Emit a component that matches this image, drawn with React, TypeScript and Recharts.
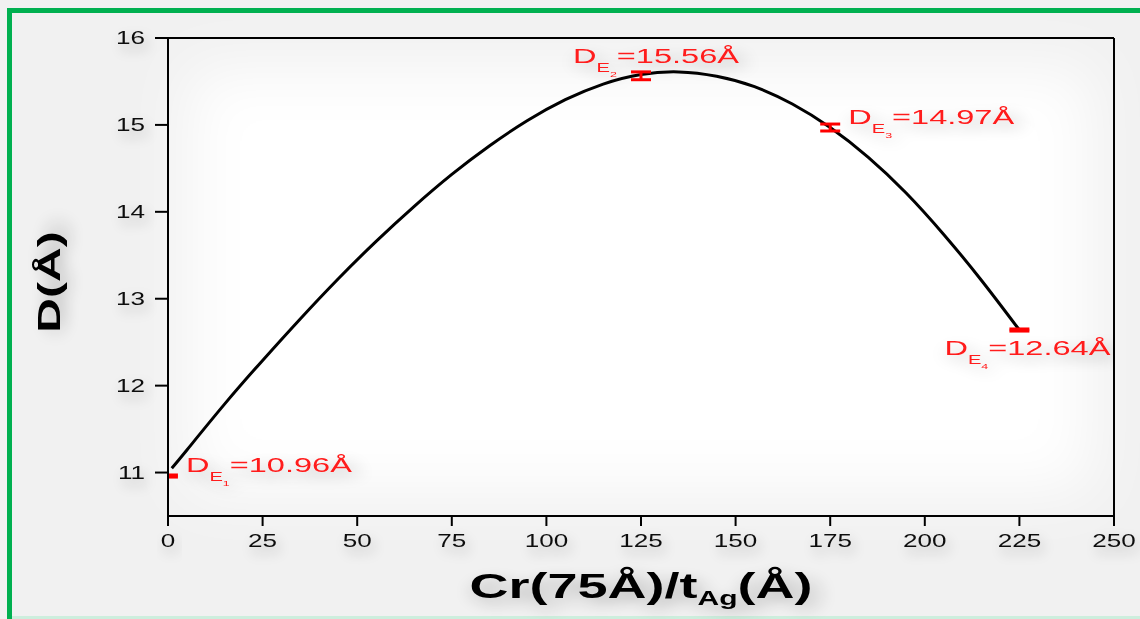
import { ComposedChart, Line, Scatter, ErrorBar, XAxis, YAxis, ReferenceLine } from 'recharts'

const curveX = [1, 5, 15, 25, 35, 45, 55, 65, 75, 85, 95, 105, 115, 125, 135, 145, 155, 165, 175, 185, 195, 205, 215, 225]
const curveY = [11.05, 11.26, 11.79, 12.29, 12.77, 13.23, 13.66, 14.06, 14.43, 14.76, 15.05, 15.29, 15.47, 15.58, 15.61, 15.56, 15.44, 15.24, 14.97, 14.63, 14.22, 13.74, 13.21, 12.64]

const pointNames = ['1', '2', '3', '4']
const pointX = [1.3, 125, 175, 225]
const pointY = [10.96, 15.565, 14.97, 12.64]
const pointErr = [0.012, 0.045, 0.04, 0.012]
const pointText = ['10.96', '15.56', '14.97', '12.64']

const xTicks = [0, 25, 50, 75, 100, 125, 150, 175, 200, 225, 250]
const yTicks = [11, 12, 13, 14, 15, 16]

const curve = curveX.map((x, i) => ({ x, y: curveY[i] }))
const points = pointX.map((x, i) => ({ x, y: pointY[i], err: pointErr[i], name: pointNames[i], text: pointText[i] }))

// label offsets from each point, in px
const labelOffset: Record<string, [number, number]> = {
  '1': [13, -4],
  '2': [-68, -13],
  '3': [18, -4],
  '4': [-75, 25],
}

const FONT = '"Liberation Sans", Arial, sans-serif'
const STRETCH = 1.45

const XTick = ({ x, y, payload }: any) => (
  <g transform={`translate(${x},${y})`} filter='url(#glow)'>
    <text transform={`scale(${STRETCH},1)`} textAnchor='middle' y={19} fontSize={18} fontFamily={FONT} fill='#111'>
      {payload.value}
    </text>
  </g>
)

const YTick = ({ x, y, payload }: any) => (
  <g transform={`translate(${x - 8},${y})`} filter='url(#glow)'>
    <text transform={`scale(${STRETCH},1)`} textAnchor='end' y={6} fontSize={18} fontFamily={FONT} fill='#111'>
      {payload.value}
    </text>
  </g>
)

const PointLabel = (props: any) => {
  const { cx, cy, payload } = props
  if (cx == null || cy == null) return null
  const [dx, dy] = labelOffset[payload.name] || [0, 0]
  return (
    <g transform={`translate(${cx + dx},${cy + dy}) scale(1.55,1)`} filter='url(#glow)'>
      <text x={0} y={0} fill='#ff1a1a' fontFamily={FONT} fontSize={21}>
        <tspan>D</tspan>
        <tspan fontSize={13} dy={9}>E</tspan>
        <tspan fontSize={8} dy={5}>{payload.name}</tspan>
        <tspan fontSize={21} dy={-14}>{'=' + payload.text + 'Å'}</tspan>
      </text>
    </g>
  )
}

const XTitle = (props: any) => {
  const vb = props.viewBox
  if (!vb) return null
  const cx = vb.x + vb.width / 2
  return (
    <g transform={`translate(${cx},${vb.y + 82}) scale(1.5,1)`} filter='url(#glow)'>
      <text textAnchor='middle' fontFamily={FONT} fontWeight='bold' fontSize={36} fill='#000'>
        <tspan>Cr(75Å)/t</tspan>
        <tspan fontSize={20} dy={7}>Ag</tspan>
        <tspan fontSize={36} dy={-7}>(Å)</tspan>
      </text>
    </g>
  )
}

const YTitle = (props: any) => {
  const vb = props.viewBox
  if (!vb) return null
  const cy = vb.y + vb.height / 2 + 5
  return (
    <g transform={`translate(60,${cy}) rotate(-90) scale(1.55,1)`} filter='url(#glow)'>
      <text textAnchor='middle' fontFamily={FONT} fontWeight='bold' fontSize={31} fill='#000'>
        D(Å)
      </text>
    </g>
  )
}

const Background = () => (
  <svg width={1140} height={619} style={{ position: 'absolute', left: 0, top: 0 }}>
    <defs>
      <filter id='glow' x='-40%' y='-80%' width='180%' height='260%'>
        <feGaussianBlur in='SourceAlpha' stdDeviation='7' />
        <feOffset dx='3' dy='6' result='b' />
        <feComponentTransfer>
          <feFuncA type='linear' slope='0.28' />
        </feComponentTransfer>
        <feMerge>
          <feMergeNode />
          <feMergeNode in='SourceGraphic' />
        </feMerge>
      </filter>
      <filter id='soft' x='-20%' y='-20%' width='140%' height='140%'>
        <feGaussianBlur stdDeviation='30' />
      </filter>
    </defs>
    <rect x={0} y={0} width={1140} height={619} fill='#f1f1f1' />
    <rect x={190} y={70} width={900} height={420} fill='#ffffff' filter='url(#soft)' />
    <line x1={9.5} y1={10.5} x2={1140} y2={10.5} stroke='#00b050' strokeWidth={5} />
    <line x1={9.5} y1={8} x2={9.5} y2={619} stroke='#00b050' strokeWidth={5} />
    <line x1={12} y1={617.5} x2={1140} y2={617.5} stroke='#cdeedd' strokeWidth={3} />
  </svg>
)

export default function App() {
  return (
    <div style={{ position: 'absolute', left: 0, top: 0, width: 1140, height: 619 }}>
      <Background />
      <div style={{ position: 'absolute', left: 0, top: 0 }}>
        <ComposedChart width={1140} height={619} margin={{ top: 38, right: 26, bottom: 0, left: 0 }}>
          <XAxis
            type='number'
            dataKey='x'
            domain={[0, 250]}
            ticks={xTicks}
            height={103}
            tickSize={10}
            stroke='#000'
            strokeWidth={2}
            tick={<XTick />}
            tickLine={{ stroke: '#000', strokeWidth: 2 }}
            label={{ content: (p: any) => <XTitle {...p} /> }}
            allowDataOverflow
          />
          <YAxis
            type='number'
            dataKey='y'
            domain={[10.5, 16]}
            ticks={yTicks}
            width={168}
            tickSize={13}
            stroke='#000'
            strokeWidth={2}
            tick={<YTick />}
            tickLine={{ stroke: '#000', strokeWidth: 2 }}
            label={{ content: (p: any) => <YTitle {...p} /> }}
            allowDataOverflow
          />
          <ReferenceLine y={16} stroke='#000' strokeWidth={2} />
          <ReferenceLine x={250} stroke='#000' strokeWidth={2} />
          <Line
            data={curve}
            dataKey='y'
            type='natural'
            stroke='#000'
            strokeWidth={3}
            dot={false}
            isAnimationActive={false}
          />
          <Scatter data={points.slice(0, 1)} dataKey='y' shape={<PointLabel />} isAnimationActive={false}>
            <ErrorBar dataKey='err' direction='y' width={5} stroke='#ff0000' strokeWidth={3} isAnimationActive={false} />
          </Scatter>
          <Scatter data={points.slice(1)} dataKey='y' shape={<PointLabel />} isAnimationActive={false}>
            <ErrorBar dataKey='err' direction='y' width={10} stroke='#ff0000' strokeWidth={3} isAnimationActive={false} />
          </Scatter>
        </ComposedChart>
      </div>
    </div>
  )
}
